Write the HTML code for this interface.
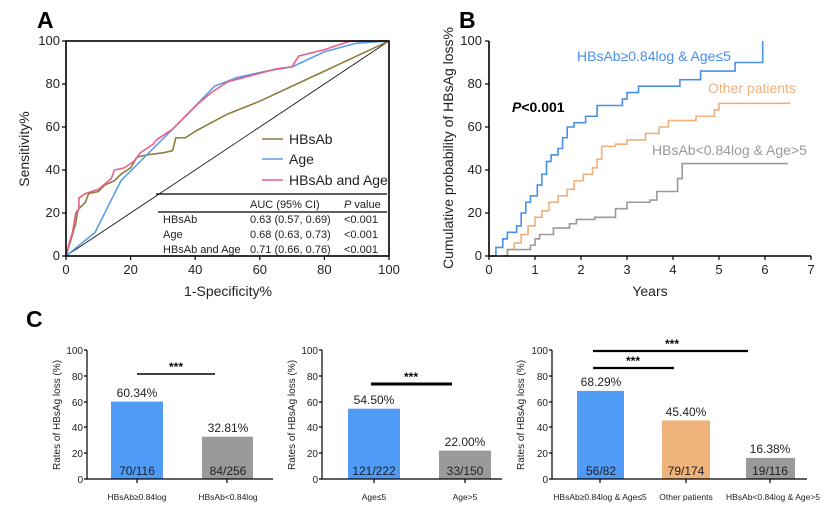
<!DOCTYPE html>
<html><head><meta charset="utf-8"><style>
html,body{margin:0;padding:0;background:#fff;}
svg{display:block;font-family:"Liberation Sans",sans-serif;}
</style></head><body>
<svg width="830" height="512" viewBox="0 0 830 512" xmlns="http://www.w3.org/2000/svg">
<rect width="830" height="512" fill="#fff"/>
<text x="37" y="28" font-size="23" font-weight="bold">A</text>
<text x="459" y="28" font-size="23" font-weight="bold">B</text>
<text x="26" y="327" font-size="23" font-weight="bold">C</text>

<g fill="none">
<g transform="translate(66,256) scale(3.23,-2.15)">
<line x1="0" y1="0" x2="100" y2="100" stroke="#000" stroke-width="0.8" vector-effect="non-scaling-stroke"/>
<polyline vector-effect="non-scaling-stroke" stroke="#8b7d3a" stroke-width="1.6" points="0,0 1,5 2,10 3,15 3.5,20 4,22 6,25 7,29 10,30 12,33 15,35 17,38 20,41 22,46 25,47 30,48 33,49 34,55 37,55 40,58 50,66 60,72 70,79 80,86 90,93 100,100"/>
<polyline vector-effect="non-scaling-stroke" stroke="#5b9ee8" stroke-width="1.6" points="0,0 9,11 17,35 25,47 35,62 46,79 53,83 62,86 70,88 80,95 90,99 100,100"/>
<polyline vector-effect="non-scaling-stroke" stroke="#e8608a" stroke-width="1.6" points="0,0 1,6 2,11 3,20 4,22 4,27 6,29 10,31 14,36 15,40 18,41 21,44 23,48 27,52 28,54 33,59 37,65 41,71 45,76 50,81 55,83 60,85 65,87 70,88 72,93 80,96 88,100 100,100"/>
</g>
<rect x="66" y="41" width="323" height="215" stroke="#000" stroke-width="1.6"/>
</g>
<g font-size="13" fill="#222" text-anchor="end">
<text x="60" y="45">100</text><text x="60" y="88">80</text><text x="60" y="131">60</text><text x="60" y="174">40</text><text x="60" y="217">20</text><text x="60" y="260">0</text>
</g>
<g stroke="#000" stroke-width="1.2">
<line x1="62" y1="41" x2="66" y2="41"/><line x1="62" y1="84" x2="66" y2="84"/><line x1="62" y1="127" x2="66" y2="127"/><line x1="62" y1="170" x2="66" y2="170"/><line x1="62" y1="213" x2="66" y2="213"/><line x1="62" y1="256" x2="66" y2="256"/>
<line x1="66" y1="256" x2="66" y2="260"/><line x1="130.6" y1="256" x2="130.6" y2="260"/><line x1="195.2" y1="256" x2="195.2" y2="260"/><line x1="259.8" y1="256" x2="259.8" y2="260"/><line x1="324.4" y1="256" x2="324.4" y2="260"/><line x1="389" y1="256" x2="389" y2="260"/>
</g>
<g font-size="13" fill="#222" text-anchor="middle">
<text x="66" y="274">0</text><text x="130.6" y="274">20</text><text x="195.2" y="274">40</text><text x="259.8" y="274">60</text><text x="324.4" y="274">80</text><text x="389" y="274">100</text>
<text x="228" y="296" font-size="14">1-Specificity%</text>
<text transform="translate(29,149) rotate(-90)" font-size="14">Sensitivity%</text>
</g>
<g stroke-width="1.6">
<line x1="262" y1="139" x2="283" y2="139" stroke="#8b7d3a"/>
<line x1="262" y1="159" x2="283" y2="159" stroke="#5b9ee8"/>
<line x1="262" y1="180" x2="283" y2="180" stroke="#e8608a"/>
</g>
<g font-size="14" fill="#222">
<text x="289" y="144">HBsAb</text><text x="289" y="164">Age</text><text x="289" y="185">HBsAb and Age</text>
</g>
<line x1="156" y1="194" x2="387" y2="194" stroke="#000" stroke-width="1.2"/>
<line x1="158" y1="212" x2="387" y2="212" stroke="#000" stroke-width="1.2"/>
<g font-size="11" fill="#222">
<text x="250" y="208">AUC (95% CI)</text><text x="344" y="208"><tspan font-style="italic">P</tspan> value</text>
<text x="163" y="223">HBsAb</text><text x="250" y="223">0.63 (0.57, 0.69)</text><text x="344" y="223">&lt;0.001</text>
<text x="163" y="238">Age</text><text x="250" y="238">0.68 (0.63, 0.73)</text><text x="344" y="238">&lt;0.001</text>
<text x="163" y="253">HBsAb and Age</text><text x="250" y="253">0.71 (0.66, 0.76)</text><text x="344" y="253">&lt;0.001</text>
</g>

<g fill="none" stroke-width="1.6">
<g transform="translate(489,256) scale(46,-2.15)">
<path vector-effect="non-scaling-stroke" stroke="#4a8fe8" d="M0,0 H0.15 V4 H0.3 V8 H0.4 V11 H0.6 V14 H0.7 V20 H0.8 V25 H0.9 V28 H1.05 V33 H1.15 V38 H1.25 V44 H1.35 V47 H1.5 V50 H1.6 V55 H1.7 V60 H1.85 V62 H2.1 V65 H2.35 V70 H2.9 V73 H3 V76 H3.25 V79 H4.15 V82 H4.6 V86 H5.35 V90 H5.95 V100"/>
<path vector-effect="non-scaling-stroke" stroke="#f0b07a" d="M0.3,0 H0.4 V3 H0.55 V6 H0.7 V10 H0.85 V14 H1 V18 H1.15 V21 H1.3 V25 H1.5 V28 H1.7 V31 H1.85 V35 H2.05 V38 H2.25 V41 H2.35 V45 H2.45 V51 H2.75 V52 H3 V54 H3.4 V57 H3.7 V60 H3.9 V63 H4.5 V65 H4.9 V68 H5 V71 H6.55"/>
<path vector-effect="non-scaling-stroke" stroke="#9a9a9a" d="M0.3,0 H0.4 V3 H0.9 V5 H1 V8 H1.1 V10 H1.4 V13 H1.75 V15 H1.9 V17 H2.3 V18 H2.75 V22 H3 V25 H3.5 V26 H3.65 V30 H4.1 V36 H4.2 V43 H6.5"/>
</g>
<path d="M489,41 V256 H811" stroke="#000" stroke-width="1.6"/>
</g>
<g stroke="#000" stroke-width="1.2">
<line x1="485" y1="41" x2="489" y2="41"/><line x1="485" y1="84" x2="489" y2="84"/><line x1="485" y1="127" x2="489" y2="127"/><line x1="485" y1="170" x2="489" y2="170"/><line x1="485" y1="213" x2="489" y2="213"/><line x1="485" y1="256" x2="489" y2="256"/>
<line x1="489" y1="256" x2="489" y2="260"/><line x1="535" y1="256" x2="535" y2="260"/><line x1="581" y1="256" x2="581" y2="260"/><line x1="627" y1="256" x2="627" y2="260"/><line x1="673" y1="256" x2="673" y2="260"/><line x1="719" y1="256" x2="719" y2="260"/><line x1="765" y1="256" x2="765" y2="260"/><line x1="811" y1="256" x2="811" y2="260"/>
</g>
<g font-size="13" fill="#222" text-anchor="end">
<text x="482" y="45">100</text><text x="482" y="88">80</text><text x="482" y="131">60</text><text x="482" y="174">40</text><text x="482" y="217">20</text><text x="482" y="260">0</text>
</g>
<g font-size="13" fill="#222" text-anchor="middle">
<text x="489" y="274">0</text><text x="535" y="274">1</text><text x="581" y="274">2</text><text x="627" y="274">3</text><text x="673" y="274">4</text><text x="719" y="274">5</text><text x="765" y="274">6</text><text x="811" y="274">7</text>
<text x="650" y="296" font-size="14">Years</text>
<text transform="translate(453,148) rotate(-90)" font-size="14">Cumulative probability of HBsAg loss%</text>
</g>
<text x="577" y="61" font-size="14" fill="#4a8fe8">HBsAb≥0.84log &amp; Age≤5</text>
<text x="708" y="93" font-size="14" fill="#f0b07a">Other patients</text>
<text x="652" y="155" font-size="14" fill="#9a9a9a">HBsAb&lt;0.84log &amp; Age&gt;5</text>
<text x="512" y="112" font-size="14" font-weight="bold"><tspan font-style="italic">P</tspan>&lt;0.001</text>

<g font-size="10" fill="#222" text-anchor="end">
<text x="83" y="354">100</text><text x="83" y="380">80</text><text x="83" y="406">60</text><text x="83" y="431">40</text><text x="83" y="457">20</text><text x="83" y="483">0</text>
<text x="318" y="354">100</text><text x="318" y="380">80</text><text x="318" y="406">60</text><text x="318" y="431">40</text><text x="318" y="457">20</text><text x="318" y="483">0</text>
<text x="548" y="354">100</text><text x="548" y="380">80</text><text x="548" y="406">60</text><text x="548" y="431">40</text><text x="548" y="457">20</text><text x="548" y="483">0</text>
</g>
<g font-size="10" fill="#222" text-anchor="middle">
<text transform="translate(60,415) rotate(-90)">Rates of HBsAg loss (%)</text>
<text transform="translate(295,415) rotate(-90)">Rates of HBsAg loss (%)</text>
<text transform="translate(524,415) rotate(-90)">Rates of HBsAg loss (%)</text>
</g>
<rect x="111" y="401.6" width="52" height="77.4" fill="#4f9bf5"/>
<rect x="202" y="436.7" width="51" height="42.3" fill="#9a9a9a"/>
<rect x="348" y="408.7" width="52" height="70.3" fill="#4f9bf5"/>
<rect x="439" y="450.6" width="52" height="28.4" fill="#9a9a9a"/>
<rect x="577" y="390.9" width="47" height="88.1" fill="#4f9bf5"/>
<rect x="662" y="420.4" width="48" height="58.6" fill="#f0b47a"/>
<rect x="746" y="457.9" width="49" height="21.1" fill="#9a9a9a"/>
<g stroke="#000" stroke-width="1.2" fill="none">
<path d="M87,350 V479 H273"/><path d="M322,350 V479 H502"/><path d="M552,350 V479 H807"/>
<path d="M84,350H87M84,376H87M84,402H87M84,427H87M84,453H87M84,479H87"/>
<path d="M319,350H322M319,376H322M319,402H322M319,427H322M319,453H322M319,479H322"/>
<path d="M549,350H552M549,376H552M549,402H552M549,427H552M549,453H552M549,479H552"/>
<path d="M137,479V483M227,479V483M374,479V483M465,479V483M600,479V483M686,479V483M770,479V483"/>
</g>
<g stroke="#000">
<line x1="137" y1="374" x2="215" y2="374" stroke-width="1.6"/>
<line x1="371" y1="384" x2="452" y2="384" stroke-width="3"/>
<line x1="593" y1="351" x2="748" y2="351" stroke-width="2.2"/>
<line x1="593" y1="368" x2="674" y2="368" stroke-width="2.2"/>
</g>
<g font-size="12" font-weight="bold" text-anchor="middle">
<text x="176" y="371">***</text><text x="411" y="381">***</text><text x="672" y="348">***</text><text x="633" y="365">***</text>
</g>
<g font-size="12" fill="#222" text-anchor="middle">
<text x="137" y="397">60.34%</text><text x="228" y="432">32.81%</text>
<text x="374" y="404">54.50%</text><text x="465" y="446">22.00%</text>
<text x="601" y="386">68.29%</text><text x="686" y="416">45.40%</text><text x="770" y="453">16.38%</text>
<text x="137" y="475">70/116</text><text x="228" y="475">84/256</text>
<text x="374" y="475">121/222</text><text x="465" y="475">33/150</text>
<text x="601" y="475">56/82</text><text x="686" y="475">79/174</text><text x="770" y="475">19/116</text>
</g>
<g font-size="8.5" fill="#222" text-anchor="middle">
<text x="137" y="500">HBsAb≥0.84log</text><text x="228" y="500">HBsAb&lt;0.84log</text>
<text x="374" y="500">Age≤5</text><text x="465" y="500">Age&gt;5</text>
<text x="600" y="500">HBsAb≥0.84log &amp; Age≤5</text><text x="686" y="500">Other patients</text><text x="773" y="500">HBsAb&lt;0.84log &amp; Age&gt;5</text>
</g>
</svg>
</body></html>
